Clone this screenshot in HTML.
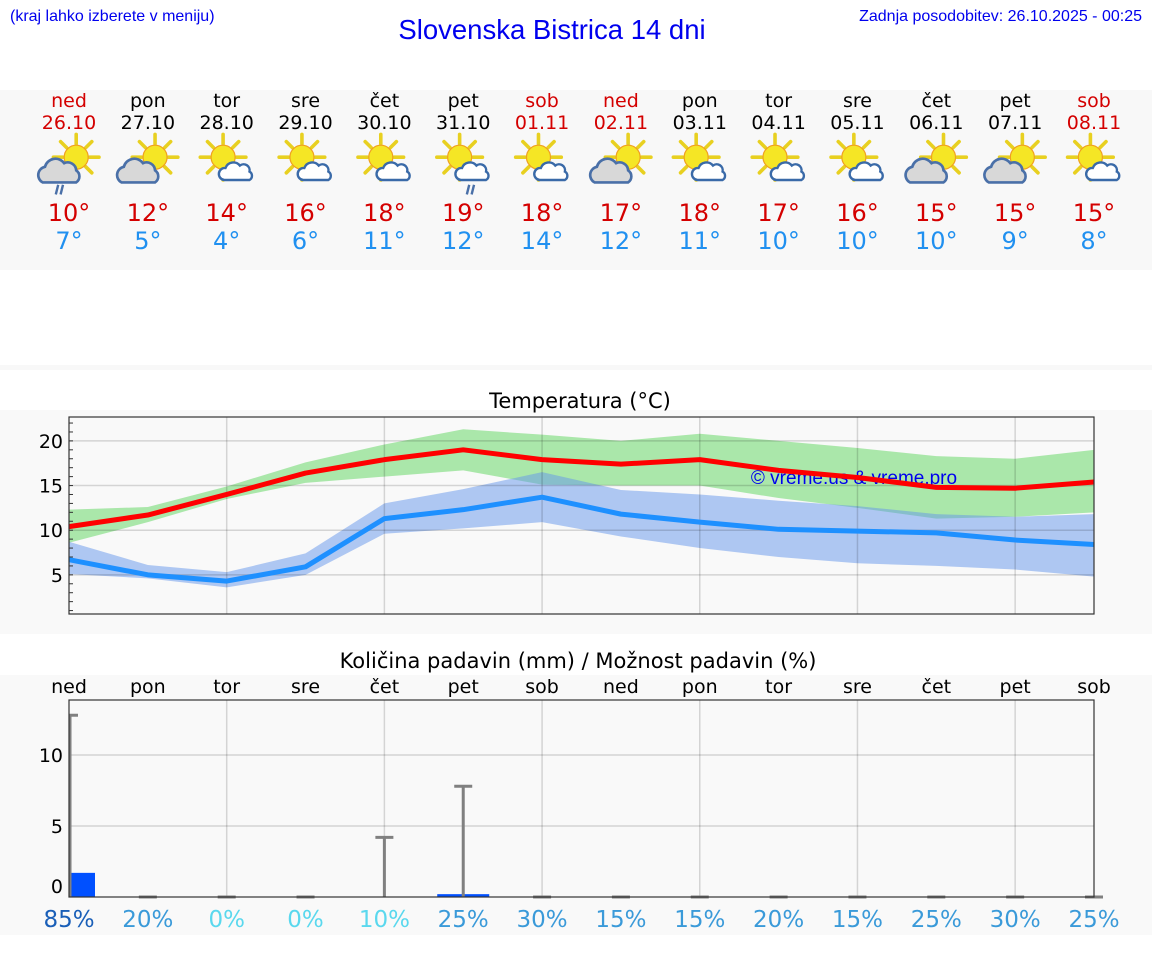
<!DOCTYPE html>
<html><head><meta charset="utf-8"><style>
body{margin:0;width:1152px;height:975px;background:#fff;overflow:hidden;font-family:"DejaVu Sans","Liberation Sans",sans-serif;}
</style></head><body>
<svg width="1152" height="975" xmlns="http://www.w3.org/2000/svg">
<defs>
<g id="sun"><g stroke="#e8d020" stroke-width="3" stroke-linecap="round">
<line x1="0" y1="-11" x2="0" y2="-19"/><line x1="0" y1="11" x2="0" y2="19"/><line x1="-11" y1="0" x2="-19" y2="0"/><line x1="11" y1="0" x2="19" y2="0"/>
<line x1="8" y1="8" x2="13" y2="13"/><line x1="-8" y1="-8" x2="-13" y2="-13"/><line x1="8" y1="-8" x2="13" y2="-13"/><line x1="-8" y1="8" x2="-13" y2="13"/></g>
<circle r="10" fill="#f5e625" stroke="#f0a020" stroke-width="1"/></g>
<g id="greycloud"><path d="M-16,8 a7,7 0 0 1 2,-13 a9,9 0 0 1 16,-3 a7,7 0 0 1 10,6 a6,6 0 0 1 0,10 z" fill="#d8d8d8" stroke="#4a70a8" stroke-width="2.2"/></g>
<g id="whitecloud"><path d="M-12,6 a5,5 0 0 1 1,-10 a7,7 0 0 1 12,-2 a5,5 0 0 1 8,5 a4,4 0 0 1 0,7 z" fill="#fff" stroke="#3a6aa8" stroke-width="2"/></g>
</defs>
<rect x="0" y="90" width="1152" height="180" fill="#f8f8f8"/>
<rect x="0" y="365" width="1152" height="5" fill="#f8f8f8"/>
<rect x="0" y="410" width="1152" height="224" fill="#f9f9f9"/>
<rect x="0" y="675" width="1152" height="260" fill="#f9f9f9"/>
<text x="10" y="21" font-family="Liberation Sans,sans-serif" font-size="16" fill="#0000ee">(kraj lahko izberete v meniju)</text>
<text x="552" y="39" text-anchor="middle" font-family="Liberation Sans,sans-serif" font-size="27.5" fill="#0000ee">Slovenska Bistrica 14 dni</text>
<text x="1142" y="21" text-anchor="end" font-family="Liberation Sans,sans-serif" font-size="16" fill="#0000ee">Zadnja posodobitev: 26.10.2025 - 00:25</text>
<g id="days"></g>
<text x="580" y="408" text-anchor="middle" font-size="21" fill="#000">Temperatura (°C)</text>
<g id="tchart"></g>
<text x="578" y="668" text-anchor="middle" font-size="21" fill="#000">Količina padavin (mm) / Možnost padavin (%)</text>
<g id="pchart"></g>
</svg>
<script>
const dayNames=["ned","pon","tor","sre","čet","pet","sob","ned","pon","tor","sre","čet","pet","sob"];
const dates=["26.10","27.10","28.10","29.10","30.10","31.10","01.11","02.11","03.11","04.11","05.11","06.11","07.11","08.11"];
const icons=["greyrain","grey","white","white","white","whiterain","white","grey","white","white","white","grey","grey","white"];
const maxT=[10,12,14,16,18,19,18,17,18,17,16,15,15,15];
const minT=[7,5,4,6,11,12,14,12,11,10,10,10,9,8];
const maxLine=[10.4,11.7,14,16.4,17.9,19,17.9,17.4,17.9,16.7,15.9,14.8,14.7,15.4];
const maxHi=[12.3,12.6,14.9,17.6,19.6,21.3,20.7,20,20.8,20,19.2,18.3,18,19];
const maxLo=[8.6,10.9,13.5,15.3,16,16.7,15.1,15,15,13.6,12.5,11.3,11.5,12];
const minLine=[6.7,5,4.3,5.9,11.3,12.3,13.7,11.8,10.9,10.1,9.9,9.7,8.9,8.4];
const minHi=[8.7,6.1,5.3,7.4,13,14.6,16.5,14.5,14,13.3,12.7,11.8,11.5,11.8];
const minLo=[5.1,4.6,3.6,5,9.6,10.2,10.9,9.3,8,7,6.3,6,5.6,4.8];
const precip=[1.7,0,0,0,0,0.2,0,0,0,0,0,0,0,0];
const precipMax=[12.8,0,0,0,4.2,7.8,0,0,0,0,0,0,0,0];
const chance=[85,20,0,0,10,25,30,15,15,20,15,25,30,25];
const tTicks=[5,10,15,20];
const pTicks=[0,5,10];
const NS="http://www.w3.org/2000/svg";
function mk(p,t,a){const e=document.createElementNS(NS,t);for(const k in a)e.setAttribute(k,a[k]);p.appendChild(e);return e;}
const X0=69,X1=1094;
const xd=i=>X0+i*(X1-X0)/13;
const yt=v=>619.5-8.93*v;
const yp=v=>897-14.2*v;
const red="#d40000";
const days=document.getElementById('days');
dayNames.forEach((d,i)=>{
  const x=xd(i),we=(d==="ned"||d==="sob");
  let t=mk(days,'text',{x:x,y:107,'text-anchor':'middle','font-size':19,fill:we?red:'#000'});t.textContent=d;
  
  t=mk(days,'text',{x:x,y:129,'text-anchor':'middle','font-size':19,fill:we?red:'#000'});t.textContent=dates[i];
  
  const g=mk(days,'g',{transform:`translate(${x},168) scale(1.2)`});
  
  const ic=icons[i];
  if(ic.startsWith('grey')){mk(g,'use',{href:'#sun',x:6,y:-9});mk(g,'use',{href:'#greycloud',x:-6,y:4});}
  else{mk(g,'use',{href:'#sun',x:-3,y:-9});mk(g,'use',{href:'#whitecloud',x:10,y:4});}
  if(ic.endsWith('rain')){const rx=ic.startsWith('grey')?-9:5;mk(g,'path',{d:`M${rx},14 l-2,8 M${rx+4},14 l-2,8`,stroke:'#4a70a8','stroke-width':2});}
  t=mk(days,'text',{x:x,y:221,'text-anchor':'middle','font-size':24,fill:red});t.textContent=maxT[i]+"°";
  
  t=mk(days,'text',{x:x,y:249,'text-anchor':'middle','font-size':24,fill:'#2090f0'});t.textContent=minT[i]+"°";
  
});
// temperature chart
const tc=document.getElementById('tchart');
mk(tc,'rect',{x:X0,y:417,width:X1-X0,height:197,fill:'#f9f9f9'});
function band(hi,lo,fill,name){let d="M"+hi.map((v,i)=>xd(i)+","+yt(v)).join(" L")+" L"+lo.map((v,i)=>xd(i)+","+yt(v)).reverse().join(" L")+"Z";
 const p=mk(tc,'path',{d:d,fill:fill,'fill-opacity':0.5});}
band(maxHi,maxLo,'#5cd65c','max-temp-range');
band(minHi,minLo,'#6496eb','min-temp-range');
tTicks.forEach(v=>{const l=mk(tc,'line',{x1:X0,x2:X1,y1:yt(v),y2:yt(v),stroke:'#000','stroke-opacity':0.15,'stroke-width':1.5});
 
 const t=mk(tc,'text',{x:63,y:yt(v)+7,'text-anchor':'end','font-size':19,fill:'#000'});t.textContent=v;
 });
for(let v=1;v<=22;v++)mk(tc,'line',{x1:X0,x2:X0+4,y1:yt(v),y2:yt(v),stroke:'#333','stroke-width':1});
for(let i=2;i<13;i+=2){const l=mk(tc,'line',{x1:xd(i),x2:xd(i),y1:417,y2:614,stroke:'#000','stroke-opacity':0.15,'stroke-width':1.5});
 }
let wm=mk(tc,'text',{x:854,y:484,'text-anchor':'middle','font-family':'Liberation Sans,sans-serif','font-size':19,fill:'#0000ee'});wm.textContent="© vreme.us & vreme.pro";

function line(arr,col,name){const p=mk(tc,'polyline',{points:arr.map((v,i)=>xd(i)+","+yt(v)).join(" "),fill:'none',stroke:col,'stroke-width':5,'stroke-linejoin':'round'});
 }
line(maxLine,'#ff0000','max-temp-line');
line(minLine,'#1e90ff','min-temp-line');
mk(tc,'rect',{x:X0,y:417,width:X1-X0,height:197,fill:'none',stroke:'#333','stroke-width':1.2});
// precip chart
const pc=document.getElementById('pchart');
mk(pc,'rect',{x:X0,y:700,width:X1-X0,height:197,fill:'#f9f9f9'});
pTicks.forEach(v=>{if(v>0){const l=mk(pc,'line',{x1:X0,x2:X1,y1:yp(v),y2:yp(v),stroke:'#000','stroke-opacity':0.15,'stroke-width':1.5});
 }
 const t=mk(pc,'text',{x:63,y:(v===0?yp(v)-4:yp(v)+7),'text-anchor':'end','font-size':19,fill:'#000'});t.textContent=v;
 });
for(let i=2;i<13;i+=2){const l=mk(pc,'line',{x1:xd(i),x2:xd(i),y1:700,y2:897,stroke:'#000','stroke-opacity':0.15,'stroke-width':1.5});
 }
const pcolors=c=>c>=50?'#1a5fb8':(c>=15?'#3a9ad9':'#5ad8ee');
dayNames.forEach((d,i)=>{
  const x=xd(i);
  let t=mk(pc,'text',{x:x,y:693,'text-anchor':'middle','font-size':19,fill:'#000'});t.textContent=d;
  
  if(precip[i]>0){const x0=Math.max(X0,x-26);const b=mk(pc,'rect',{x:x0,y:yp(precip[i]),width:x+26-x0,height:897-yp(precip[i]),fill:'#0050ff'});
   }
  const e=mk(pc,'g',{stroke:'#808080','stroke-width':3});
  
  mk(e,'line',{x1:x+(i===0?1:0),x2:x+(i===0?1:0),y1:897,y2:yp(precipMax[i])});
  mk(e,'line',{x1:Math.max(X0,x-9),x2:x+9,y1:yp(precipMax[i]),y2:yp(precipMax[i])});
  t=mk(pc,'text',{x:x,y:927,'text-anchor':'middle','font-size':23,fill:pcolors(chance[i])});t.textContent=chance[i]+"%";
  
});
mk(pc,'rect',{x:X0,y:700,width:X1-X0,height:197,fill:'none',stroke:'#333','stroke-width':1.2});
</script>
</body></html>
